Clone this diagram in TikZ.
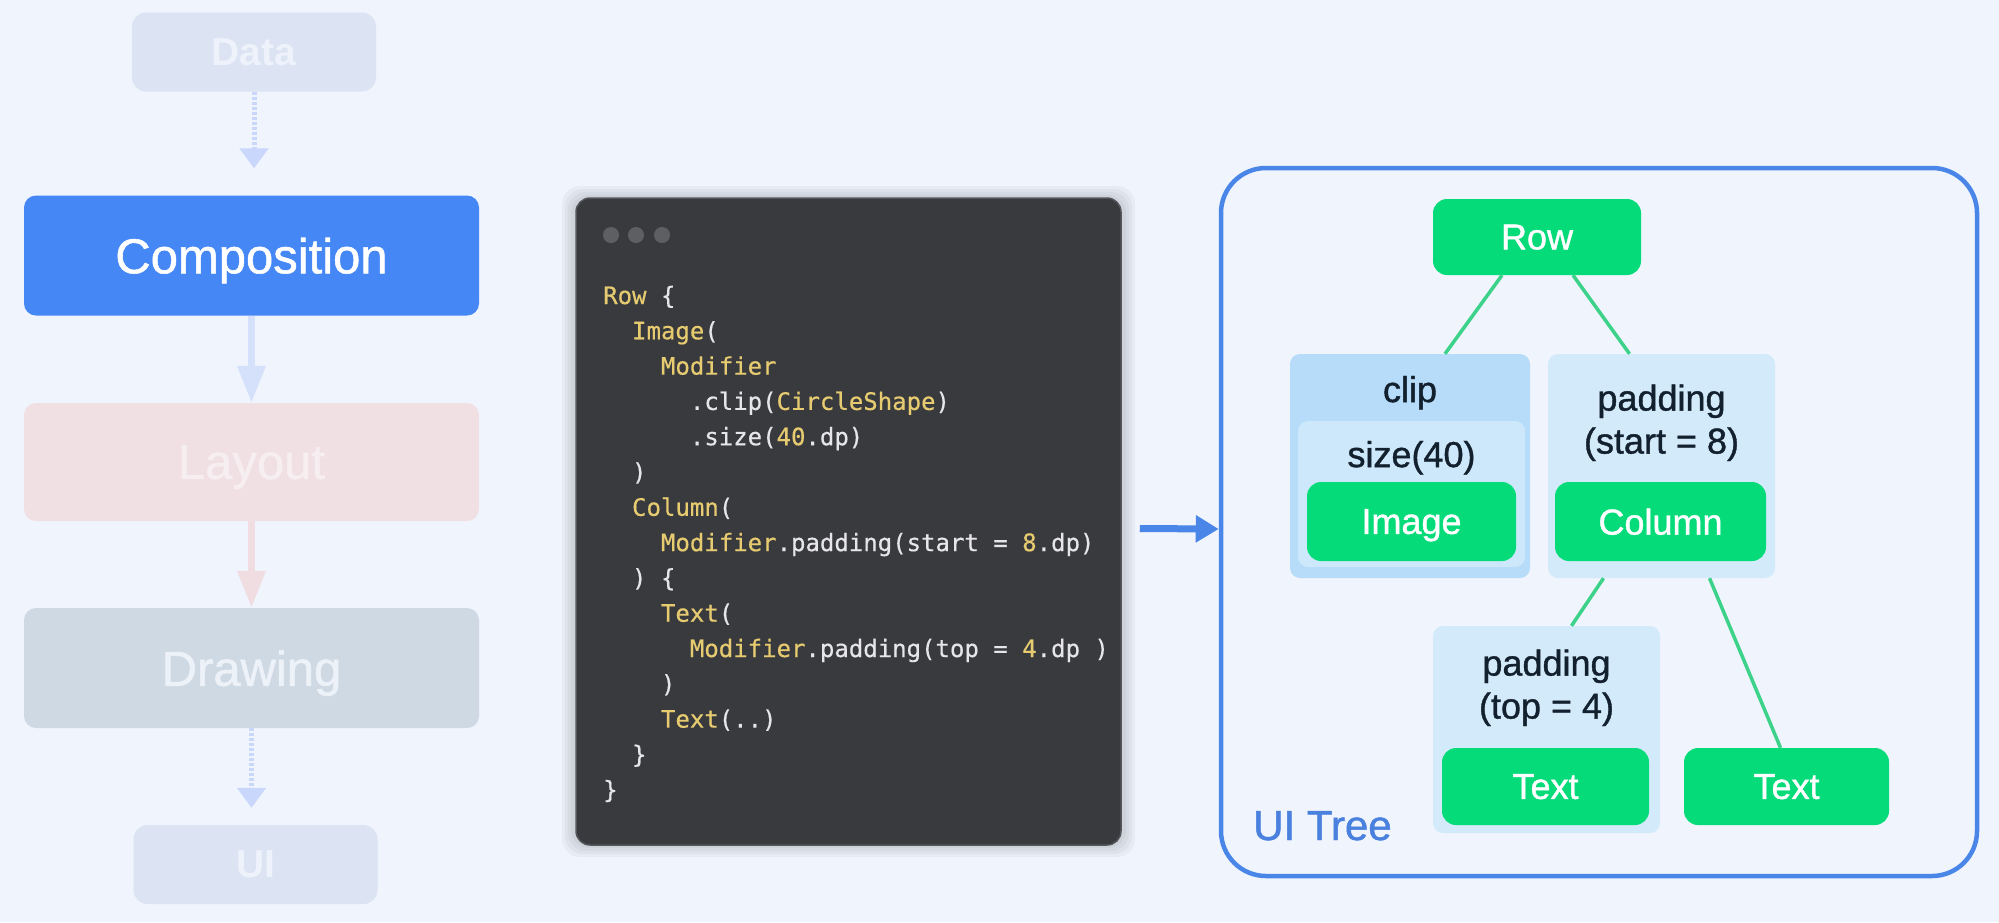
\documentclass[tikz,border=0pt]{standalone}
\usepackage{fontspec}
\setmainfont{Liberation Sans}
\newfontfamily\medfont{Liberation Sans}[FakeBold=1.1]
\newfontfamily\codefont{DejaVu Sans Mono}[FakeBold=0.5]
\usetikzlibrary{arrows.meta, positioning, calc}
\definecolor{pagebg}{HTML}{F0F4FD}
\definecolor{databox}{HTML}{DCE3F2}
\definecolor{datatext}{HTML}{EEF2FB}
\definecolor{compblue}{HTML}{4587F5}
\definecolor{layoutbox}{HTML}{F0E0E3}
\definecolor{layouttext}{HTML}{F6EEF1}
\definecolor{drawbox}{HTML}{CFD9E3}
\definecolor{drawtext}{HTML}{EDF1F8}
\definecolor{arrowblue}{HTML}{D5E1FB}
\definecolor{arrowdots}{HTML}{C8D7FB}
\definecolor{arrowpink}{HTML}{F0DDE1}
\definecolor{codebg}{HTML}{393A3E}
\definecolor{codeborder}{HTML}{55565B}
\definecolor{codedot}{HTML}{5E5F63}
\definecolor{codeyellow}{HTML}{E6CB70}
\definecolor{codewhite}{HTML}{E6E6E8}
\definecolor{linkblue}{HTML}{4A86E8}
\definecolor{treegreen}{HTML}{06DB7A}
\definecolor{edgegreen}{HTML}{3DD28A}
\definecolor{clipfill}{HTML}{B6DCF9}
\definecolor{sizefill}{HTML}{CDE8FB}
\definecolor{padfill}{HTML}{D3EAFB}
\definecolor{labeldark}{HTML}{13202E}
\definecolor{treeblue}{HTML}{4A80DE}

\newcommand{\kw}[1]{\textcolor{codeyellow}{#1}}

\tikzset{
  stagebox/.style={rectangle, rounded corners=12pt, minimum width=455pt, minimum height=120pt, inner sep=0pt, text depth=0pt, font=\medfont\fontsize{49}{60}\selectfont},
  endbox/.style={rectangle, rounded corners=14pt, minimum width=244pt, minimum height=79pt, inner sep=0pt, text depth=0pt, fill=databox, text=datatext, font=\bfseries\fontsize{39}{46}\selectfont},
  flowline/.style={line width=7pt, -{Triangle[length=37pt,width=27pt]}},
  flowdots/.style={line width=5pt, draw=arrowdots, dash pattern=on 3pt off 2pt, -{Triangle[length=20pt,width=28pt]}},
  codetext/.style={anchor=base west, inner sep=0pt, text=codewhite, font=\codefont\fontsize{24}{30}\selectfont},
  treenode/.style={rectangle, rounded corners=14pt, fill=treegreen, text=white, inner sep=0pt, text depth=0pt, minimum height=78pt, font=\medfont\fontsize{36}{43}\selectfont},
  modbox/.style={rectangle, rounded corners=10pt, inner sep=0pt},
  modlabel/.style={text=labeldark, inner sep=0pt, text depth=0pt, align=center, font=\medfont\fontsize{36}{43}\selectfont},
  treeedge/.style={draw=edgegreen, line width=3.5pt}
}

\begin{document}
\begin{tikzpicture}[x=1pt, y=-1pt]
\useasboundingbox (0,0) rectangle (1999,922);
\fill[pagebg] (0,0) rectangle (1999,922);

% Pipeline stages
\node[endbox] (data) at (254,52) {Data};
\node[stagebox, fill=compblue, text=white] (comp) at (251.5,255.5) {Composition};
\node[stagebox, fill=layoutbox, text=layouttext, minimum height=118pt] (layout) at (251.5,462) {Layout};
\node[stagebox, fill=drawbox, text=drawtext] (drawing) at (251.5,668) {Drawing};
\node[endbox] (ui) at (255.5,864.5) {UI};

\draw[flowdots, shorten >=27pt] (data.south) -- (data.south |- comp.north);
\draw[flowline, draw=arrowblue] (comp) -- (layout);
\draw[flowline, draw=arrowpink] (layout) -- (drawing);
\draw[flowdots, shorten >=17pt] (drawing.south) -- (drawing.south |- ui.north);

% Code window
\foreach \g in {3,6,9,12}
  \fill[black, opacity=0.035, rounded corners=18pt] (574-\g,198-\g) rectangle (1123+\g,845+\g);
\node[rectangle, rounded corners=14pt, fill=codebg, draw=codeborder, line width=1.5pt, minimum width=545pt, minimum height=647pt] (code) at (848.5,521.5) {};
\foreach \dx in {611,636,662}
  \fill[codedot] (\dx,235) circle (8pt);
\foreach \codeline [count=\i from 0] in {
  {\kw{Row} \{},
  {\hphantom{xx}\kw{Image}(},
  {\hphantom{xxxx}\kw{Modifier}},
  {\hphantom{xxxxxx}.clip(\kw{CircleShape})},
  {\hphantom{xxxxxx}.size(\kw{40}.dp)},
  {\hphantom{xx})},
  {\hphantom{xx}\kw{Column}(},
  {\hphantom{xxxx}\kw{Modifier}.padding(start = \kw{8}.dp)},
  {\hphantom{xx}) \{},
  {\hphantom{xxxx}\kw{Text}(},
  {\hphantom{xxxxxx}\kw{Modifier}.padding(top = \kw{4}.dp )},
  {\hphantom{xxxx})},
  {\hphantom{xxxx}\kw{Text}(..)},
  {\hphantom{xx}\}},
  {\}}
}
  \node[codetext] at (603,{304+35.3*\i}) {\codeline};

% UI tree frame
\node[rectangle, rounded corners=45pt, draw=linkblue, line width=4.5pt, minimum width=756pt, minimum height=708pt] (uitree) at (1599,522) {};
\node[anchor=base west, inner sep=0pt, text=treeblue, font=\medfont\fontsize{42}{50}\selectfont] (treetitle) at (1253,840) {UI Tree};
\draw[draw=linkblue, line width=7pt, -{Triangle[length=23pt,width=26pt]}] ($(code.east)+(18,7)$) -- ($(uitree.west)+(0,7)$);

% Modifier boxes
\node[modbox, fill=clipfill, minimum width=240pt, minimum height=224pt] (clip) at (1410,466) {};
\node[modbox, fill=sizefill, minimum width=227pt, minimum height=146pt] (size) at (1411.5,494) {};
\node[modbox, fill=padfill, minimum width=227pt, minimum height=224pt] (padstart) at (1661.5,466) {};
\node[modbox, fill=padfill, minimum width=227pt, minimum height=207pt] (padtop) at (1546.5,729.5) {};
\node[modlabel] at (1410,389) {clip};
\node[modlabel] at (1411.5,454) {size(40)};
\node[modlabel] at (1661.5,419) {padding\\(start = 8)};
\node[modlabel] at (1546.5,684) {padding\\(top = 4)};

% Layout nodes
\node[treenode, minimum width=208pt, minimum height=76pt] (row) at (1537,237) {Row};
\node[treenode, minimum width=209pt, minimum height=79pt] (image) at (1411.5,521.5) {Image};
\node[treenode, minimum width=211pt, minimum height=79pt] (column) at (1660.5,521.5) {Column};
\node[treenode, minimum width=207pt, minimum height=77pt] (textone) at (1545.5,786.5) {Text};
\node[treenode, minimum width=205pt, minimum height=77pt] (texttwo) at (1786.5,786.5) {Text};

% Edges
\draw[treeedge] ($(row.south)+(-35,0)$) -- ($(clip.north)+(35,0)$);
\draw[treeedge] ($(row.south)+(36,0)$) -- ($(padstart.north)+(-32,0)$);
\draw[treeedge] ($(padstart.south)+(-58,0)$) -- ($(padtop.north)+(25,0)$);
\draw[treeedge] ($(padstart.south)+(48,0)$) -- ($(texttwo.north)+(-6,0)$);
\end{tikzpicture}
\end{document}
